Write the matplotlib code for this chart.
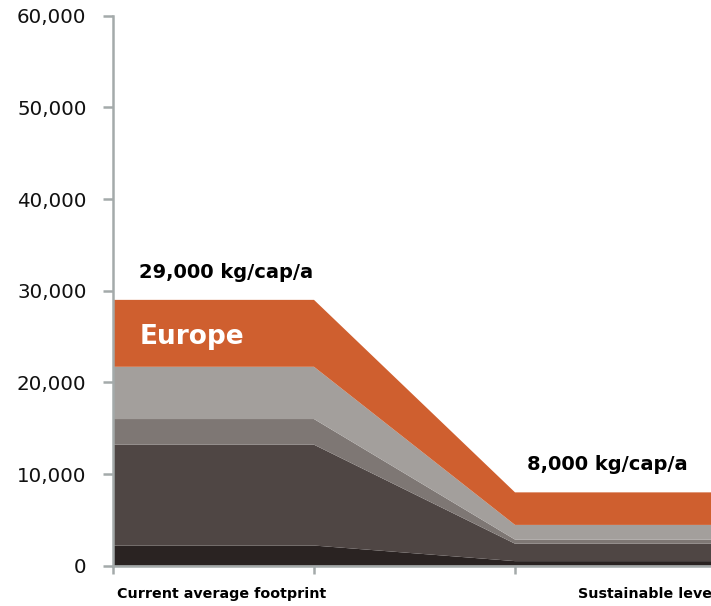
import matplotlib.pyplot as plt
import numpy as np

# footprint layers, kg per capita per year (bottom to top)
current = [2200, 11000, 2800, 5700, 7300]
sustainable = [500, 1900, 450, 1600, 3550]
layer_colors = ['#2a2322', '#4f4644', '#7e7774', '#a39f9c', '#cf5f2f']
x_pos = [0, 1, 2, 2.975]
scenario_labels = ['Current average footprint', 'Sustainable level']
total_labels = ['29,000 kg/cap/a', '8,000 kg/cap/a']
region = 'Europe'

fig = plt.figure(figsize=(7.11, 6.06), dpi=100)
ax = fig.add_axes([0.1589, 0.0665, 0.8411, 0.9076])

layers = np.array([[c, c, s, s] for c, s in zip(current, sustainable)])
ax.stackplot(x_pos, layers, colors=layer_colors, linewidth=0)

axis_gray = '#a4aaaa'
ax.set_xlim(0, 2.975)
ax.set_ylim(0, 60000)
ax.set_yticks(np.arange(0, 60001, 10000))
ax.set_yticklabels([f'{v:,}' for v in range(0, 60001, 10000)], fontsize=14.3,
                   color='#111111')
ax.set_xticks([0, 1, 2])
ax.set_xticklabels([])
for side in ['top', 'right']:
    ax.spines[side].set_visible(False)
for side in ['left', 'bottom']:
    ax.spines[side].set_color(axis_gray)
    ax.spines[side].set_linewidth(1.8)
ax.tick_params(axis='y', length=7, width=1.8, color=axis_gray, pad=12)
ax.tick_params(axis='x', length=6, width=1.8, color=axis_gray)

# totals and region name
ax.text(0.13, sum(current) + 3000, total_labels[0], fontsize=14,
        fontweight='bold', va='center', ha='left')
ax.text(2.06, sum(sustainable) + 3000, total_labels[1], fontsize=14,
        fontweight='bold', va='center', ha='left')
ax.text(0.135, 25000, region, fontsize=19, fontweight='bold', color='white',
        va='center', ha='left')

# scenario names below the axis
ax.text(0.02, -0.052, scenario_labels[0], transform=ax.get_xaxis_transform(),
        fontsize=10.3, fontweight='bold', va='center', ha='left',
        clip_on=False)
ax.text(2.313, -0.052, scenario_labels[1], transform=ax.get_xaxis_transform(),
        fontsize=10.3, fontweight='bold', va='center', ha='left',
        clip_on=False)

fig.savefig('out.png', dpi=100)
